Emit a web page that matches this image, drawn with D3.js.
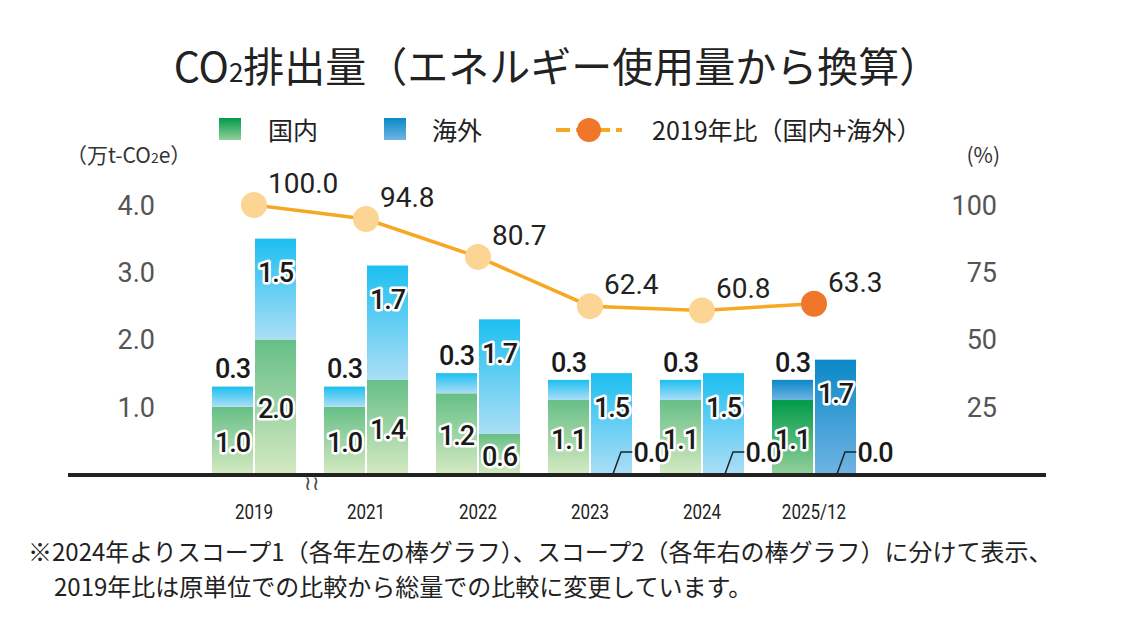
<!DOCTYPE html>
<html><head><meta charset="utf-8">
<script src="https://cdn.jsdelivr.net/npm/d3@7"></script>
<style>body{margin:0;background:#fff;font-family:"Noto Sans CJK JP","Noto Sans",sans-serif}</style>
</head><body><svg id="c" width="1128" height="627"></svg>
<script>
// data
const years = ["2019", "2021", "2022", "2023", "2024", "2025/12"];
const s1Dom = [1.0, 1.0, 1.2, 1.1, 1.1, 1.1];
const s1Ovs = [0.3, 0.3, 0.3, 0.3, 0.3, 0.3];
const s2Dom = [2.0, 1.4, 0.6, 0.0, 0.0, 0.0];
const s2Ovs = [1.5, 1.7, 1.7, 1.5, 1.5, 1.7];
const ratio = [100.0, 94.8, 80.7, 62.4, 60.8, 63.3];
const leftTicks = [1.0, 2.0, 3.0, 4.0];
const rightTicks = [25, 50, 75, 100];

const svg = d3.select("#c");
const x = d3.scaleBand().domain(years).range([198, 870]).paddingInner(0);
const y = d3.scaleLinear().domain([0, 4]).range([474, 205]);
const yr = d3.scaleLinear().domain([0, 100]).range([474, 205]);
const bw = 41;

// gradients
const defs = svg.append("defs");
function grad(id, top, bot) {
    const g = defs.append("linearGradient").attr("id", id).attr("x1", 0).attr("y1", 0).attr("x2", 0).attr("y2", 1);
    g.append("stop").attr("offset", 0).attr("stop-color", top);
    g.append("stop").attr("offset", 1).attr("stop-color", bot);
}
grad("gG", "#66bf87", "#d4e9c1");
grad("gB", "#1cbff0", "#abdef6");
grad("gGd", "#009a48", "#92d09c");
grad("gBd", "#0a88c8", "#6fb4e2");

// title
svg.append("text").attr("x", 557).attr("y", 82).attr("text-anchor", "middle")
    .attr("font-size", 41).attr("fill", "#222")
    .html('CO<tspan font-size="26">2</tspan>排出量（エネルギー使用量から換算）');

// legend
svg.append("rect").attr("x", 219).attr("y", 118).attr("width", 22).attr("height", 22).attr("fill", "url(#gGd)");
svg.append("text").attr("x", 268).attr("y", 140).attr("font-size", 25).attr("fill", "#222").text("国内");
svg.append("rect").attr("x", 384).attr("y", 118).attr("width", 22).attr("height", 22).attr("fill", "url(#gBd)");
svg.append("text").attr("x", 432).attr("y", 140).attr("font-size", 25).attr("fill", "#222").text("海外");
svg.append("line").attr("x1", 556).attr("x2", 622).attr("y1", 130).attr("y2", 130)
    .attr("stroke", "#f7a823").attr("stroke-width", 4).attr("stroke-dasharray", "14,6");
svg.append("circle").attr("cx", 589).attr("cy", 130).attr("r", 12).attr("fill", "#f0762a");
svg.append("text").attr("x", 652).attr("y", 140).attr("font-size", 25).attr("fill", "#222").text("2019年比（国内+海外）");

// units
svg.append("text").attr("x", 66).attr("y", 163).attr("font-size", 21).attr("fill", "#333")
    .html('（万t-CO<tspan font-size="14">2</tspan>e）');
svg.append("text").attr("x", 1000).attr("y", 163).attr("font-size", 21).attr("fill", "#333").attr("text-anchor", "end").text("(%)");

// axes
const yAx = svg.append("g").attr("transform", "translate(158,0)")
    .call(d3.axisLeft(y).tickValues(leftTicks).tickFormat(d3.format(".1f")).tickSize(0));
yAx.select(".domain").remove();
yAx.selectAll("text").attr("font-size", 27).attr("fill", "#555").attr("font-family", "Roboto,sans-serif").attr("dy", "0.35em");
const yrAx = svg.append("g").attr("transform", "translate(1000,0)")
    .call(d3.axisLeft(yr).tickValues(rightTicks).tickSize(0));
yrAx.select(".domain").remove();
yrAx.selectAll("text").attr("font-size", 27).attr("fill", "#555").attr("font-family", "Roboto,sans-serif").attr("dy", "0.35em");

// bars
const last = years.length - 1;
const labels = [];
years.forEach((yrName, i) => {
    const cx = x(yrName) + x.bandwidth() / 2;
    const dark = i === last;
    const gG = dark ? "url(#gGd)" : "url(#gG)", gB = dark ? "url(#gBd)" : "url(#gB)";
    const lx = cx - 1 - bw, rx = cx + 1;
    // scope1
    svg.append("rect").attr("x", lx).attr("y", y(s1Dom[i])).attr("width", bw).attr("height", y(0) - y(s1Dom[i])).attr("fill", gG);
    svg.append("rect").attr("x", lx).attr("y", y(s1Dom[i] + s1Ovs[i])).attr("width", bw).attr("height", y(s1Dom[i]) - y(s1Dom[i] + s1Ovs[i])).attr("fill", gB);
    // scope2
    if (s2Dom[i] > 0)
        svg.append("rect").attr("x", rx).attr("y", y(s2Dom[i])).attr("width", bw).attr("height", y(0) - y(s2Dom[i])).attr("fill", gG);
    svg.append("rect").attr("x", rx).attr("y", y(s2Dom[i] + s2Ovs[i])).attr("width", bw).attr("height", y(s2Dom[i]) - y(s2Dom[i] + s2Ovs[i])).attr("fill", gB);

    labels.push([lx + bw / 2, y(s1Dom[i] + s1Ovs[i]) - 18, s1Ovs[i], false]);
    labels.push([lx + bw / 2, (y(0) + y(s1Dom[i])) / 2 + 2, s1Dom[i], true]);
    labels.push([rx + bw / 2, y(s2Dom[i] + s2Ovs[i]) + 34, s2Ovs[i], true]);
    if (s2Dom[i] > 0) {
        labels.push([rx + bw / 2, (y(0) + y(s2Dom[i])) / 2 + 2, s2Dom[i], true]);
    } else {
        labels.push([rx + 60, y(0) - 22, s2Dom[i], true, true]);
    }

    svg.append("text").attr("x", cx).attr("y", 519).attr("text-anchor", "middle").attr("font-size", 20)
        .attr("fill", "#222").attr("font-family", "Roboto,sans-serif").attr("transform", `translate(${cx},0) scale(0.85,1) translate(${-cx},0)`).text(yrName);
});

// value labels drawn over all bars
labels.forEach(([cx, cy, v, halo, leader]) => {
    if (leader) {
        const bx = cx - 60 + 22;
        svg.append("polyline").attr("points", `${bx},${y(0)} ${bx + 8},${y(0) - 22} ${bx + 20},${y(0) - 22}`)
            .attr("fill", "none").attr("stroke", "#222").attr("stroke-width", 1.5);
    }
    const t = svg.append("text").attr("x", cx).attr("y", cy).attr("dy", "0.36em").attr("text-anchor", "middle")
        .attr("font-size", 27).attr("font-family", "Roboto,sans-serif").attr("font-weight", 500)
        .attr("letter-spacing", -1).attr("fill", "#1a1a1a").text(v.toFixed(1));
    if (halo) t.attr("stroke", "#fff").attr("stroke-width", 5).attr("paint-order", "stroke").attr("stroke-linejoin", "round");
});

// baseline
svg.append("line").attr("x1", 68).attr("x2", 1046).attr("y1", 475).attr("y2", 475).attr("stroke", "#222").attr("stroke-width", 4);
// break mark
svg.append("text").attr("x", 312).attr("y", 490).attr("text-anchor", "middle").attr("font-size", 20).attr("fill", "#444").text("≀≀");

// line
const pts = years.map((d, i) => [x(d) + x.bandwidth() / 2, yr(ratio[i])]);
svg.append("path").attr("d", d3.line()(pts)).attr("fill", "none").attr("stroke", "#f7a823").attr("stroke-width", 3.5);
pts.forEach((p, i) => {
    svg.append("circle").attr("cx", p[0]).attr("cy", p[1]).attr("r", 13).attr("fill", i === last ? "#f0762a" : "#fcd494");
    svg.append("text").attr("x", p[0] + 14).attr("y", p[1] - 12).attr("font-size", 28)
        .attr("font-family", "Roboto,sans-serif").attr("fill", "#222").text(ratio[i].toFixed(1));
});

// note
svg.append("text").attr("x", 28).attr("y", 561).attr("font-size", 24).attr("fill", "#222")
    .text("※2024年よりスコープ1（各年左の棒グラフ）、スコープ2（各年右の棒グラフ）に分けて表示、");
svg.append("text").attr("x", 54).attr("y", 596).attr("font-size", 24).attr("fill", "#222")
    .text("2019年比は原単位での比較から総量での比較に変更しています。");
</script></body></html>
